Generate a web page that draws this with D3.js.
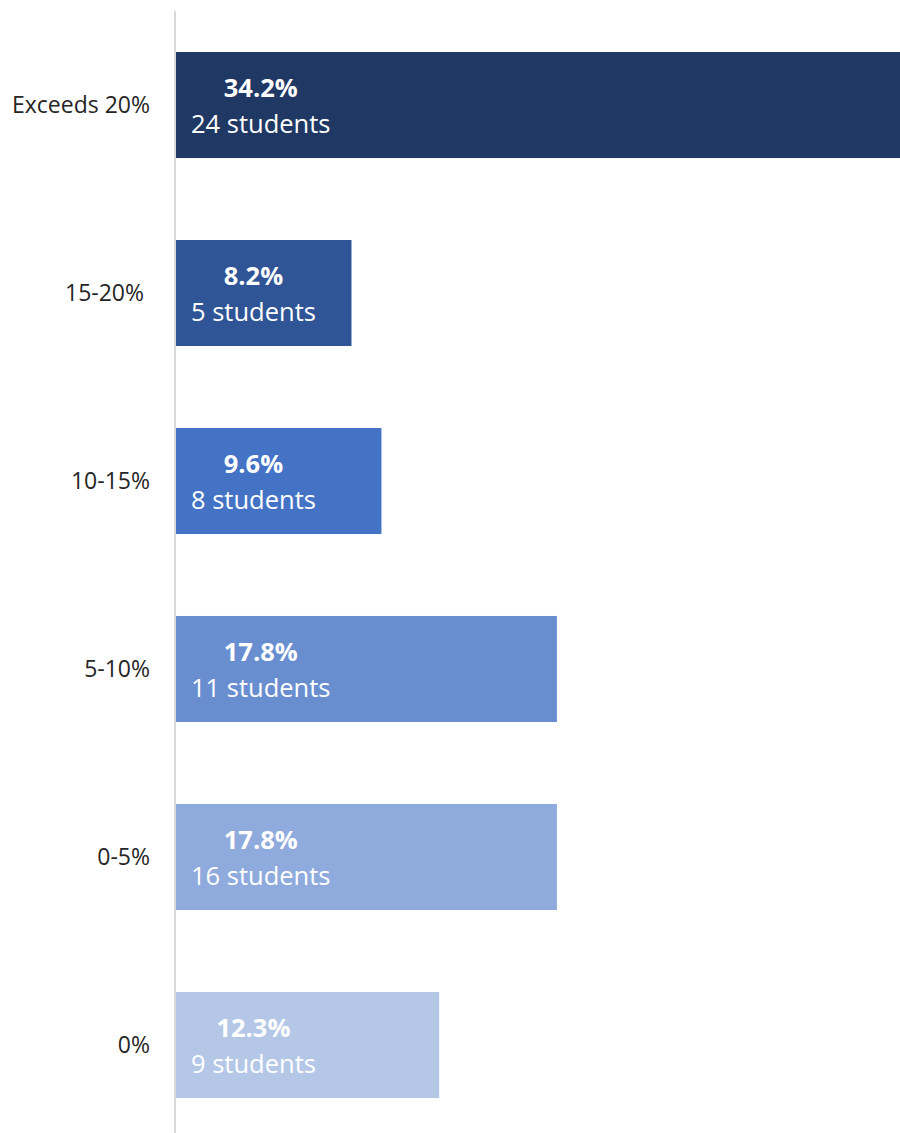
<!DOCTYPE html>
<html lang="en">
	<head>
		<meta charset="utf-8">
		<title>Students by range</title>
		<script type="text/javascript" src="https://cdn.jsdelivr.net/npm/d3@7"></script>
		<style type="text/css">
			body { margin: 0; background: #fff; }
			text { font-family: "Open Sans", "Liberation Sans", sans-serif; }
		</style>
	</head>
	<body>
		<script type="text/javascript">

			//Data
			var categories = ["Exceeds 20%", "15-20%\u00A0", "10-15%", "5-10%", "0-5%", "0%"];
			var percents = [34.2, 8.2, 9.6, 17.8, 17.8, 12.3];
			var students = [24, 5, 8, 11, 16, 9];
			var colors = ["#203864", "#2F5597", "#4472C4", "#698ED0", "#8FAADC", "#B4C7E7"];

			//Width and height
			var w = 900;
			var h = 1133;
			var left = 176;

			var svg = d3.select("body")
						.append("svg")
						.attr("width", w)
						.attr("height", h);

			var x = d3.scaleLinear()
						.domain([0, 10])
						.range([left, left + 214]);

			var y = d3.scaleBand()
						.domain(categories)
						.range([52, 1098])
						.paddingInner(0.436)
						.paddingOuter(0);

			//Bars
			svg.selectAll("rect.bar")
			   .data(categories)
			   .enter()
			   .append("rect")
			   .attr("class", "bar")
			   .attr("x", x(0))
			   .attr("y", function(d) { return y(d); })
			   .attr("width", function(d, i) { return x(percents[i]) - x(0); })
			   .attr("height", y.bandwidth())
			   .style("fill", function(d, i) { return colors[i]; });

			//Axis line
			svg.append("line")
			   .attr("x1", left - 1).attr("x2", left - 1)
			   .attr("y1", 11).attr("y2", h)
			   .style("stroke", "#D9D9D9")
			   .style("stroke-width", 2);

			//Category labels
			svg.selectAll("text.cat")
			   .data(categories)
			   .enter()
			   .append("text")
			   .attr("class", "cat")
			   .attr("x", 150)
			   .attr("y", function(d) { return y(d) + y.bandwidth() / 2; })
			   .attr("dy", "0.35em")
			   .attr("text-anchor", "end")
			   .style("font-size", "23px")
			   .style("fill", "#262626")
			   .text(function(d) { return d; });

			//Value labels: students line left aligned, percent centred above it
			categories.forEach(function(c, i) {
				var cy = y(c) + y.bandwidth() / 2;
				var st = svg.append("text")
				   .attr("x", 191)
				   .attr("y", cy + 28)
				   .style("font-size", "25.5px")
				   .style("fill", "#fff")
				   .text(students[i] + " students");
				var len = st.node().getComputedTextLength();
				svg.append("text")
				   .attr("x", 191 + len / 2)
				   .attr("y", cy - 8)
				   .attr("text-anchor", "middle")
				   .style("font-size", "25.5px")
				   .style("font-weight", "bold")
				   .style("fill", "#fff")
				   .text(d3.format(".1f")(percents[i]) + "%");
			});

		</script>
	</body>
</html>
